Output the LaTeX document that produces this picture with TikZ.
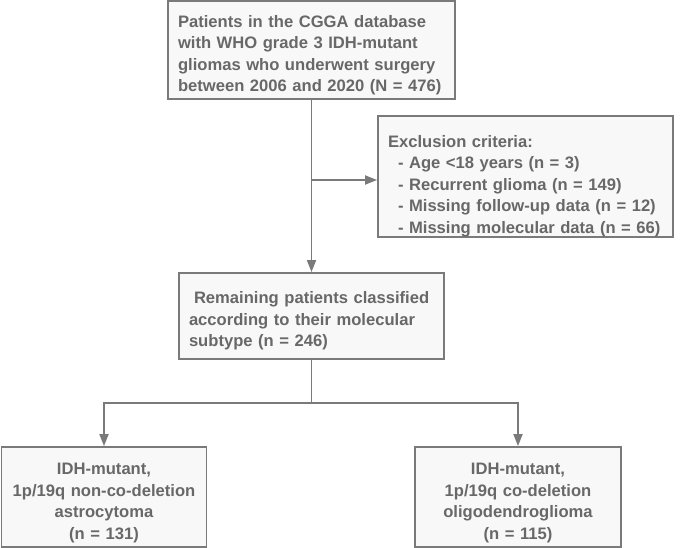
\documentclass[tikz,border=0pt]{standalone}
\usepackage{fontspec}
\setmainfont{Liberation Sans}
\usetikzlibrary{arrows.meta}
\definecolor{edgegray}{HTML}{7A7A7A}
\definecolor{boxfill}{HTML}{F8F8F8}
\definecolor{txtgray}{HTML}{686868}
\newcommand{\mytopstrut}[1]{\rule{0pt}{#1}}
\tikzset{
  box/.style={draw=edgegray, fill=boxfill, line width=1.9pt, text=txtgray,
    font=\fontsize{16.6}{21.5}\selectfont\bfseries, inner xsep=10pt, inner ysep=0pt},
  conn/.style={draw=edgegray, line width=1.9pt},
  arr/.style={conn, -{Triangle[length=12pt,width=9pt]}}
}
\begin{document}
\begin{tikzpicture}[x=1pt,y=-1pt]
\useasboundingbox (0,0) rectangle (685,548);
\node[box, minimum width=287pt, minimum height=98pt, text width=267pt, align=left] (top) at (311.5,50)
  {\mytopstrut{22pt}Patients in the CGGA database\\with WHO grade 3 IDH-mutant\\gliomas who underwent surgery\\between 2006 and 2020 (N = 476)};
\node[box, minimum width=295pt, minimum height=117pt, text width=275pt, align=left] (excl) at (525.5,176.5)
  {\mytopstrut{31pt}Exclusion criteria:\\\hspace*{10pt}- Age <18 years (n = 3)\\\hspace*{10pt}- Recurrent glioma (n = 149)\\\hspace*{10pt}- Missing follow-up data (n = 12)\\\hspace*{10pt}- Missing molecular data (n = 66)};
\node[box, minimum width=265pt, minimum height=86pt, text width=245pt, align=left] (mid) at (311.5,316)
  {\mytopstrut{22pt}\hspace*{5pt}Remaining patients classified\\according to their molecular\\subtype (n = 246)};
\node[box, minimum width=205pt, minimum height=100pt, text width=185pt, align=center] (bl) at (104,497)
  {\mytopstrut{23pt}IDH-mutant,\\1p/19q non-co-deletion\\astrocytoma\\(n = 131)};
\node[box, minimum width=206pt, minimum height=100pt, text width=186pt, align=center] (br) at (518,497)
  {\mytopstrut{23pt}IDH-mutant,\\1p/19q co-deletion\\oligodendroglioma\\(n = 115)};
\coordinate (j1) at (311.5,180);
\coordinate (j2) at (311.5,403);
\draw[arr] (top) -- (mid);
\draw[arr] (j1) -- (j1 -| excl.west);
\draw[conn] (mid) -- (j2);
\draw[arr] (j2) -| (bl);
\draw[arr] (j2) -| (br);
\end{tikzpicture}
\end{document}
